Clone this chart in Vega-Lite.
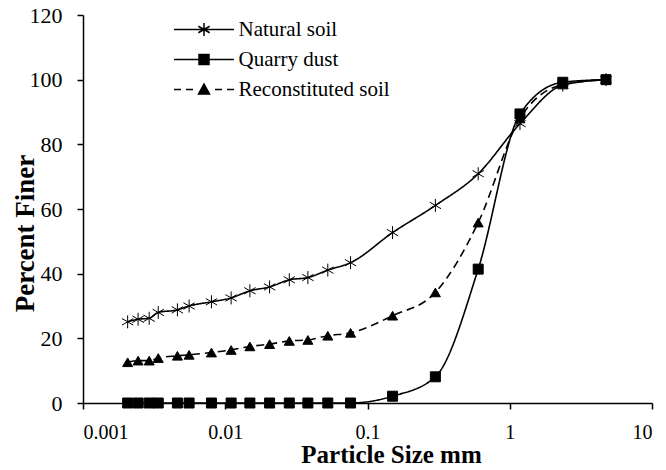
{
  "$schema": "https://vega.github.io/schema/vega-lite/v6.json",
  "width": 569,
  "height": 388,
  "autosize": {"type": "none"},
  "padding": {"left": 83, "top": 15, "right": 14, "bottom": 67},
  "background": "white",
  "config": {
    "view": {"stroke": null},
    "font": "Liberation Serif",
    "axis": {
      "grid": false,
      "domainColor": "black",
      "domainWidth": 1.5,
      "tickColor": "black",
      "tickWidth": 1.5,
      "tickSize": 6,
      "labelFont": "Liberation Serif",
      "labelFontSize": 20,
      "labelColor": "black",
      "titleFont": "Liberation Serif",
      "titleFontWeight": "bold",
      "titleColor": "black"
    }
  },
  "data": {
    "values": [
      {"series": "Natural soil", "size": 0.00206, "finer": 25.1},
      {"series": "Natural soil", "size": 0.00244, "finer": 25.9},
      {"series": "Natural soil", "size": 0.00292, "finer": 26.2},
      {"series": "Natural soil", "size": 0.00338, "finer": 28.0},
      {"series": "Natural soil", "size": 0.00461, "finer": 28.8},
      {"series": "Natural soil", "size": 0.00557, "finer": 30.0},
      {"series": "Natural soil", "size": 0.0080, "finer": 31.3},
      {"series": "Natural soil", "size": 0.0110, "finer": 32.5},
      {"series": "Natural soil", "size": 0.0149, "finer": 34.7},
      {"series": "Natural soil", "size": 0.0205, "finer": 35.9},
      {"series": "Natural soil", "size": 0.0282, "finer": 38.1},
      {"series": "Natural soil", "size": 0.0381, "finer": 38.8},
      {"series": "Natural soil", "size": 0.0526, "finer": 41.1},
      {"series": "Natural soil", "size": 0.076, "finer": 43.4},
      {"series": "Natural soil", "size": 0.15, "finer": 52.7},
      {"series": "Natural soil", "size": 0.3, "finer": 61.1},
      {"series": "Natural soil", "size": 0.6, "finer": 70.9},
      {"series": "Natural soil", "size": 1.18, "finer": 86.4},
      {"series": "Natural soil", "size": 2.36, "finer": 98.3},
      {"series": "Natural soil", "size": 4.75, "finer": 100},
      {"series": "Quarry dust", "size": 0.00206, "finer": 0},
      {"series": "Quarry dust", "size": 0.00244, "finer": 0},
      {"series": "Quarry dust", "size": 0.00292, "finer": 0},
      {"series": "Quarry dust", "size": 0.00338, "finer": 0},
      {"series": "Quarry dust", "size": 0.00461, "finer": 0},
      {"series": "Quarry dust", "size": 0.00557, "finer": 0},
      {"series": "Quarry dust", "size": 0.0080, "finer": 0},
      {"series": "Quarry dust", "size": 0.0110, "finer": 0},
      {"series": "Quarry dust", "size": 0.0149, "finer": 0},
      {"series": "Quarry dust", "size": 0.0205, "finer": 0},
      {"series": "Quarry dust", "size": 0.0282, "finer": 0},
      {"series": "Quarry dust", "size": 0.0381, "finer": 0},
      {"series": "Quarry dust", "size": 0.0526, "finer": 0},
      {"series": "Quarry dust", "size": 0.076, "finer": 0},
      {"series": "Quarry dust", "size": 0.15, "finer": 2.1},
      {"series": "Quarry dust", "size": 0.3, "finer": 8.1},
      {"series": "Quarry dust", "size": 0.6, "finer": 41.4},
      {"series": "Quarry dust", "size": 1.18, "finer": 89.4},
      {"series": "Quarry dust", "size": 2.36, "finer": 99.2},
      {"series": "Quarry dust", "size": 4.75, "finer": 100},
      {"series": "Reconstituted soil", "size": 0.00206, "finer": 12.6},
      {"series": "Reconstituted soil", "size": 0.00244, "finer": 13.1},
      {"series": "Reconstituted soil", "size": 0.00292, "finer": 13.1},
      {"series": "Reconstituted soil", "size": 0.00338, "finer": 13.9},
      {"series": "Reconstituted soil", "size": 0.00461, "finer": 14.6},
      {"series": "Reconstituted soil", "size": 0.00557, "finer": 14.9},
      {"series": "Reconstituted soil", "size": 0.0080, "finer": 15.6},
      {"series": "Reconstituted soil", "size": 0.0110, "finer": 16.4},
      {"series": "Reconstituted soil", "size": 0.0149, "finer": 17.5},
      {"series": "Reconstituted soil", "size": 0.0205, "finer": 18.2},
      {"series": "Reconstituted soil", "size": 0.0282, "finer": 19.2},
      {"series": "Reconstituted soil", "size": 0.0381, "finer": 19.5},
      {"series": "Reconstituted soil", "size": 0.0526, "finer": 20.8},
      {"series": "Reconstituted soil", "size": 0.076, "finer": 21.7},
      {"series": "Reconstituted soil", "size": 0.15, "finer": 27.0},
      {"series": "Reconstituted soil", "size": 0.3, "finer": 34.2},
      {"series": "Reconstituted soil", "size": 0.6, "finer": 55.8},
      {"series": "Reconstituted soil", "size": 1.18, "finer": 88.0},
      {"series": "Reconstituted soil", "size": 2.36, "finer": 98.5},
      {"series": "Reconstituted soil", "size": 4.75, "finer": 100}
    ]
  },
  "encoding": {
    "x": {
      "field": "size",
      "type": "quantitative",
      "scale": {"type": "log", "domain": [0.001, 10], "nice": false},
      "axis": {
        "values": [0.001, 0.01, 0.1, 1, 10],
        "format": "~g",
        "title": "Particle Size mm",
        "titleFontSize": 25,
        "labelFontSize": 20,
        "labelPadding": 13,
        "titlePadding": 0,
        "titleX": 308
      }
    },
    "y": {
      "field": "finer",
      "type": "quantitative",
      "scale": {"domain": [0, 120], "nice": false},
      "axis": {
        "values": [0, 20, 40, 60, 80, 100, 120],
        "title": "Percent Finer",
        "titleFontSize": 27,
        "labelFontSize": 22,
        "labelPadding": 15,
        "titleX": -50,
        "titleY": 218,
        "titleBaseline": "alphabetic",
        "titleAngle": 270
      }
    }
  },
  "layer": [
    {
      "mark": {"type": "line", "color": "black", "strokeWidth": 1.6, "interpolate": "monotone"},
      "encoding": {
        "detail": {"field": "series", "type": "nominal"},
        "strokeDash": {
          "field": "series",
          "type": "nominal",
          "scale": {"domain": ["Natural soil", "Quarry dust", "Reconstituted soil"], "range": [[1, 0], [1, 0], [8, 5]]},
          "legend": null
        }
      }
    },
    {
      "mark": {"type": "point", "filled": true, "fill": "black", "stroke": "black", "strokeWidth": 1, "size": 100, "opacity": 1},
      "encoding": {
        "shape": {
          "field": "series",
          "type": "nominal",
          "scale": {
            "domain": ["Natural soil", "Quarry dust", "Reconstituted soil"],
            "range": ["M0,-1.3V1.3M-1.13,-0.65L1.13,0.65M-1.13,0.65L1.13,-0.65", "square", "triangle-up"]
          },
          "legend": null
        }
      }
    },
    {
      "mark": {"type": "point", "filled": true, "fill": "black", "stroke": "black", "opacity": 0, "size": 100, "strokeWidth": 1.5},
      "encoding": {
        "shape": {
          "field": "series",
          "type": "nominal",
          "scale": {
            "domain": ["Natural soil", "Quarry dust", "Reconstituted soil"],
            "range": [
              "M-6,0H6M0,-1.3V1.3M-1.13,-0.65L1.13,0.65M-1.13,0.65L1.13,-0.65",
              "M-6,0H6M-1,-1H1V1H-1Z",
              "M-6,0H-4.6M-3.6,0H-2.2M-1.1,0.9L0,-1.1L1.1,0.9ZM2.2,0H3.6M4.6,0H6"
            ]
          },
          "legend": {
            "title": null,
            "orient": "none",
            "legendX": 90,
            "legendY": 4,
            "padding": 0,
            "symbolOpacity": 1,
            "symbolSize": 100,
            "symbolStrokeWidth": 1.5,
            "symbolOffset": 20.5,
            "labelOffset": 24,
            "rowPadding": 8,
            "labelFont": "Liberation Serif",
            "labelFontSize": 21,
            "labelColor": "black"
          }
        }
      }
    }
  ],
  "resolve": {"scale": {"shape": "independent"}}
}
